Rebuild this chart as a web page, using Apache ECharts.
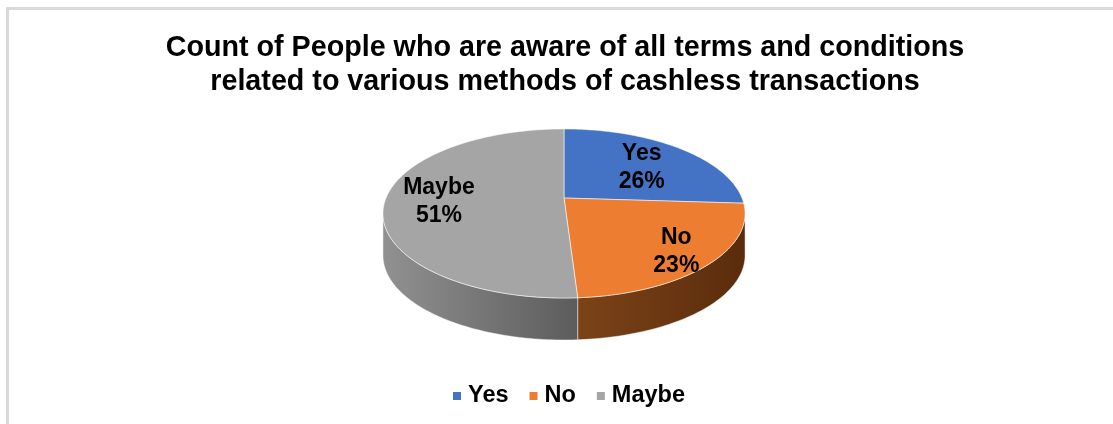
<!DOCTYPE html>
<html lang="en">
<head>
	<meta charset="UTF-8">
	<title>Cashless awareness</title>
	<script src="https://cdn.jsdelivr.net/npm/echarts@6/dist/echarts.min.js"></script>
	<style>
		body { margin: 0; overflow: hidden; background: #fff; }
		#frame { position: absolute; left: 6px; top: 7px; border-left: 3px solid #d9d9d9; border-top: 3px solid #d9d9d9; }
		#chart { width: 1112px; height: 414px; }
	</style>
</head>
<body>
	<div id="frame"><div id="chart"></div></div>
	<script type="text/javascript">
		const categories = ['Yes', 'No', 'Maybe'];
		const values = [26, 23, 51];
		const colors = ['#4472c4', '#ed7d31', '#a5a5a5'];
		const sideColors = [['#2f5597', '#203c6b'], ['#7c4318', '#5a2c0c'], ['#919191', '#5c5c5c']];

		const total = values.reduce((a, b) => a + b, 0);
		const starts = [];
		let acc = 0;
		values.forEach(v => { starts.push(acc / total); acc += v; });

		// fake 3d: tilted disc with a bit of perspective
		const CX = 555, CY = 188, RX = 178, A = 81.7, B = 0.183, DEPTH = 42;
		const labelR = [0.62, 0.8, 0.7];

		function proj(theta, r, dy) {
			const u = r * Math.sin(theta), v = -r * Math.cos(theta);
			const k = 1 / (1 - B * v);
			return [CX + RX * u * k, CY + A * v * k + (dy || 0)];
		}

		function arc(a, b, dy) {
			const pts = [];
			const n = Math.max(2, Math.ceil(Math.abs(b - a) / 0.02));
			for (let i = 0; i <= n; i++) pts.push(proj(a + (b - a) * i / n, 1, dy));
			return pts;
		}

		function renderTop(i) {
			return function (params, api) {
				const val = api.value(0);
				const a = starts[i] * Math.PI * 2;
				const b = a + val / total * Math.PI * 2;
				const pts = [proj(0, 0)].concat(arc(a, b, 0));
				const mid = (a + b) / 2;
				const lp = proj(mid, labelR[i]);
				return {
					type: 'group',
					children: [{
						type: 'polygon',
						shape: { points: pts },
						style: { fill: colors[i], stroke: 'rgba(255,255,255,0.55)', lineWidth: 1 }
					}, {
						type: 'text',
						x: lp[0] + (i === 0 ? 3 : 0), y: lp[1] + 2,
						style: {
							text: categories[i] + '\n' + Math.round(val / total * 100) + '%',
							fontFamily: 'Liberation Sans, Arial, sans-serif',
							fontWeight: 'bold', fontSize: 23, lineHeight: 28,
							fill: '#000', align: 'center', verticalAlign: 'middle'
						}
					}]
				};
			};
		}

		const lo = Math.acos(-B), hi = Math.PI * 2 - Math.acos(-B);

		function renderSide(params, api) {
			const i = params.dataIndex;
			const a = starts[i] * Math.PI * 2;
			const b = a + api.value(0) / total * Math.PI * 2;
			const s = Math.max(a, lo), e = Math.min(b, hi);
			if (e <= s) return { type: 'group', children: [] };
			const pts = arc(s, e, 0).concat(arc(e, s, DEPTH));
			return {
				type: 'polygon',
				shape: { points: pts },
				style: {
					fill: new echarts.graphic.LinearGradient(0, 0, 1, 0, [
						{ offset: 0, color: sideColors[i][0] },
						{ offset: 1, color: sideColors[i][1] }
					]),
					stroke: 'rgba(255,255,255,0.45)', lineWidth: 1
				}
			};
		}

		const series = [{
			name: 'side',
			type: 'custom',
			coordinateSystem: 'none',
			renderItem: renderSide,
			data: values,
			silent: true,
			z: 1
		}];
		categories.forEach((c, i) => {
			series.push({
				name: c,
				type: 'custom',
				coordinateSystem: 'none',
				renderItem: renderTop(i),
				itemStyle: { color: colors[i] },
				data: [values[i]],
				z: 2
			});
		});

		const chart = echarts.init(document.getElementById('chart'));
		chart.setOption({
			animation: false,
			title: {
				text: 'Count of People who are aware of all terms and conditions\nrelated to various methods of cashless transactions',
				left: 'center',
				top: 21,
				padding: 0,
				textStyle: {
					fontFamily: 'Liberation Sans, Arial, sans-serif',
					fontWeight: 'bold', fontSize: 28.7, lineHeight: 34, color: '#000'
				}
			},
			legend: {
				data: categories,
				left: 444,
				top: 374,
				padding: 0,
				icon: 'rect',
				itemWidth: 8,
				itemHeight: 8,
				itemGap: 21,
				textStyle: {
					fontFamily: 'Liberation Sans, Arial, sans-serif',
					fontWeight: 'bold', fontSize: 23.5, color: '#000', padding: [0, 0, 0, 2]
				}
			},
			series: series
		});
	</script>
</body>
</html>
